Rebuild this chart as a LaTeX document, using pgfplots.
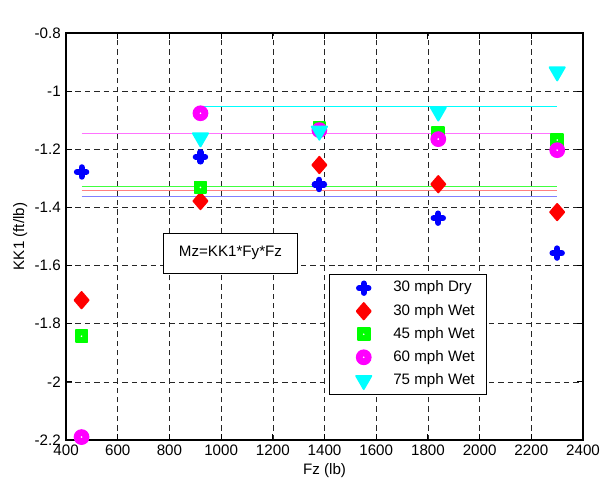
\documentclass[border=0pt]{standalone}
\usepackage{fontspec}
\setmainfont{Liberation Sans}
\usepackage{pgfplots}
\pgfplotsset{compat=1.18}

\definecolor{mblue}{rgb}{0,0,1}
\definecolor{mred}{rgb}{1,0,0}
\definecolor{mgreen}{rgb}{0,1,0}
\definecolor{mmag}{rgb}{1,0,1}
\definecolor{mcyan}{rgb}{0,1,1}

% filled marks with a white centre dot, like the MATLAB ones
\pgfdeclareplotmark{dotcircle}{%
  \pgfpathcircle{\pgfpointorigin}{\pgfplotmarksize}\pgfusepathqfillstroke
  \begin{pgfscope}\pgfsetfillcolor{white}\pgfpathcircle{\pgfpointorigin}{0.6pt}\pgfusepathqfill\end{pgfscope}}
\pgfdeclareplotmark{dotsquare}{%
  \pgfpathrectangle{\pgfqpoint{-\pgfplotmarksize}{-\pgfplotmarksize}}{\pgfqpoint{2\pgfplotmarksize}{2\pgfplotmarksize}}\pgfusepathqfillstroke
  \begin{pgfscope}\pgfsetfillcolor{white}\pgfpathcircle{\pgfpointorigin}{0.6pt}\pgfusepathqfill\end{pgfscope}}

\pgfplotsset{legimg/.style={legend image code/.code={%
  \path[draw=none,fill=none] (0pt,-4pt) rectangle (34.5pt,4pt);
  \draw[mark repeat=2,mark phase=2,##1,only marks] plot coordinates {(0pt,0pt)(19.5pt,0pt)(34.5pt,0pt)};}}}

\begin{document}
\begin{tikzpicture}[font=\fontsize{10}{12}\selectfont]
\useasboundingbox (-43.6pt,-27.7pt) rectangle (355.7pt,290.4pt);
\begin{axis}[
  scale only axis, width=341.2pt, height=268.6pt,
  xmin=400, xmax=2400, ymin=-2.2, ymax=-0.8,
  xtick={400,600,...,2400}, ytick={-2.2,-2,...,-0.8},
  /pgf/number format/assume math mode=true,
  /pgf/number format/set thousands separator={},
  yticklabel style={/pgf/number format/.cd,fixed,precision=1},
  tick align=inside, major tick length=4pt,
  axis line style={line width=0.8pt},
  tick style={black, line width=0.6pt},
  grid=major,
  major grid style={black!85, line width=0.45pt, dash pattern=on 3.6pt off 2.6pt},
  xlabel={Fz (lb)}, ylabel={KK1 (ft/lb)},
  xlabel style={yshift=2pt},
  ylabel style={yshift=-2pt},
  legend cell align=left,
  legend style={at={(rel axis cs:0.509,0.408)}, anchor=north west,
    draw=black, line width=0.6pt, fill=white, inner xsep=3pt, inner ysep=1.5pt,
    row sep=0pt,
    nodes={text height=7.5pt, text depth=2.5pt, inner ysep=2.6pt, inner xsep=4.5pt, line width=0.6pt}},
]
% mean lines
\addplot[forget plot, mblue!50, line width=0.7pt] coordinates {(460,-1.363) (2300,-1.363)};
\addplot[forget plot, mred!50, line width=0.7pt] coordinates {(460,-1.341) (2300,-1.341)};
\addplot[forget plot, mgreen!75, line width=0.7pt] coordinates {(460,-1.327) (2300,-1.327)};
\addplot[forget plot, mmag!55, line width=0.7pt] coordinates {(460,-1.145) (2300,-1.145)};
\addplot[forget plot, mcyan, line width=0.7pt] coordinates {(920,-1.054) (2300,-1.054)};

\addplot[only marks, legimg, mark=+, color=mblue, mark size=3.1pt,
  mark options={line width=4pt, line cap=round}]
  coordinates {(460,-1.278) (920,-1.226) (1380,-1.321) (1840,-1.437) (2300,-1.557)};
\addlegendentry{30 mph Dry}
\addplot[only marks, legimg, mark=diamond*, color=mred, fill=mred, mark size=5.4pt,
  mark options={xscale=1.15, line width=1.2pt, line join=round}]
  coordinates {(460,-1.719) (920,-1.378) (1380,-1.254) (1840,-1.320) (2300,-1.416)};
\addlegendentry{30 mph Wet}
\addplot[only marks, legimg, mark=dotsquare, color=mgreen, fill=mgreen, mark size=3.9pt,
  mark options={line width=1.2pt, line join=round}]
  coordinates {(460,-1.843) (920,-1.331) (1380,-1.127) (1840,-1.144) (2300,-1.168)};
\addlegendentry{45 mph Wet}
\addplot[only marks, legimg, mark=dotcircle, color=mmag, fill=mmag, mark size=4.8pt,
  mark options={line width=0.8pt}]
  coordinates {(460,-2.190) (920,-1.076) (1380,-1.134) (1840,-1.165) (2300,-1.203)};
\addlegendentry{60 mph Wet}
\addplot[only marks, legimg, mark=triangle*, color=mcyan, fill=mcyan, mark size=5.8pt,
  mark options={rotate=180, line width=1.2pt, line join=round}]
  coordinates {(920,-1.160) (1380,-1.137) (1840,-1.071) (2300,-0.933)};
\addlegendentry{75 mph Wet}

\node[draw=black, line width=0.6pt, fill=white, minimum width=89pt, minimum height=26.4pt]
  at (axis cs:1036,-1.557) {Mz=KK1*Fy*Fz};
\node[anchor=south west, inner sep=0pt] at (rel axis cs:0,1) [yshift=4pt] {x 10\textsuperscript{-4}};
\end{axis}
\end{tikzpicture}
\end{document}
